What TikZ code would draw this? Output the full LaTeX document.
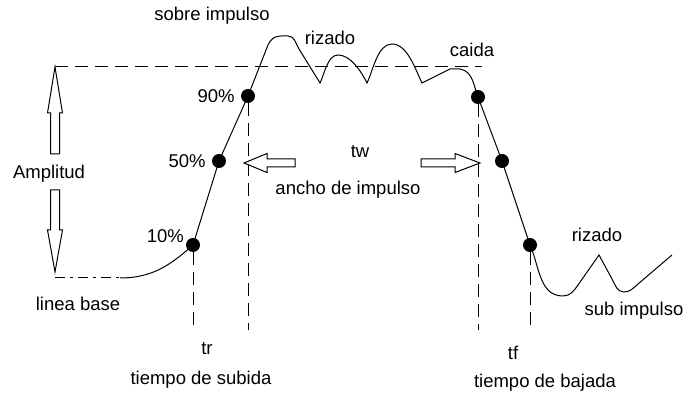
\documentclass[tikz,border=0pt]{standalone}
\usepackage{fontspec}
\setmainfont{Liberation Sans}

\begin{document}
\begin{tikzpicture}[x=1pt,y=1pt,
  txt/.style={font=\fontsize{18.5}{20}\selectfont,inner sep=0pt},
  every label/.style={txt},
  dot/.style={circle,fill,inner sep=0pt,minimum size=14pt},
  guide/.style={dash pattern=on 13pt off 7pt,line width=1pt},
  pulse/.style={line width=1pt},
  hollow/.style={line width=1pt,fill=white}]
\useasboundingbox (0,0) rectangle (689,393);

% reference points
\coordinate (amptop) at (55,326);
\coordinate (topend) at (482,326);
\coordinate (base0) at (55,115);
\coordinate (base1) at (120,115);
\coordinate (bot) at (0,63);
\coordinate (r10) at (193,148);
\coordinate (r50) at (219,232);
\coordinate (r90) at (248,297);
\coordinate (f90) at (478,296);
\coordinate (f50) at (502,232);
\coordinate (f10) at (530,148);

% pulse
\draw[guide] (amptop) -- (topend);
\draw[pulse,dash pattern=on 10pt off 5pt on 3pt off 5pt] (base0) -- (base1);
\draw[pulse] (base1) to[out=0,in=222] (r10) -- (r50) -- (r90) -- (268,348)
  to[out=68,in=180] (281,357) -- (288,357) to[out=0,in=122] (299,344)
  -- (320,310) to[out=64,in=180,looseness=0.8] (338,338)
  to[out=0,in=116,looseness=0.8] (367,310)
  to[out=64,in=180,looseness=0.8] (392,349)
  to[out=0,in=116,looseness=0.8] (422,310)
  -- (450,324) -- (460,324) to[out=-10,in=111] (f90) -- (f50)
  -- (f10) to[out=-66,in=180] (563,97) to[out=0,in=235] (578,108)
  -- (599,138) -- (612,114) to[out=-61,in=180] (624,101) to[out=0,in=221] (638,109)
  -- (672,138);

\node[dot,label={[label distance=6pt]left:90\%}] (d90) at (r90) {};
\node[dot,label={[label distance=6pt]left:50\%}] (d50) at (r50) {};
\node[dot,label={[label distance=2pt]165:10\%}] (d10) at (r10) {};
\node[dot] (e90) at (f90) {};
\node[dot] (e50) at (f50) {};
\node[dot] (e10) at (f10) {};

\draw[guide] (d90) -- (d90 |- bot);
\draw[guide] (d10) -- (d10 |- bot);
\draw[guide] (e90) -- (e90 |- bot);
\draw[guide] (e10) -- (e10 |- bot);

% hollow arrows
\draw[hollow] (amptop) -- ++(7.5,-46) -- ++(-3,0) -- ++(0,-41) -- ++(-9,0)
  -- ++(0,41) -- ++(-3,0) -- cycle;
\coordinate (ampbot) at (55,121);
\draw[hollow] (ampbot) -- ++(7.5,42) -- ++(-3,0) -- ++(0,40) -- ++(-9,0)
  -- ++(0,-40) -- ++(-3,0) -- cycle;
\coordinate (wleft) at (244,230);
\draw[hollow] (wleft) -- ++(23,9.5) -- ++(0,-5.5) -- ++(28,0) -- ++(0,-8)
  -- ++(-28,0) -- ++(0,-5.5) -- cycle;
\coordinate (wright) at (480,230);
\draw[hollow] (wright) -- ++(-25,9.5) -- ++(0,-5.5) -- ++(-34,0) -- ++(0,-8)
  -- ++(34,0) -- ++(0,-5.5) -- cycle;

% texts
\node[txt] (sobre) at (212,377) {sobre impulso};
\node[txt] (riz1) at (330,355) {rizado};
\node[txt] (caida) at (472,343) {caida};
\node[txt] (amp) at (49,219) {Amplitud};
\node[txt] (lbase) at (78,89) {linea base};
\node[txt] (tw) at (360,241) {tw};
\node[txt] (ancho) at (348,203) {ancho de impulso};
\node[txt] (tr) at (207,44) {tr};
\node[txt] (tsub) at (201,13) {tiempo de subida};
\node[txt] (tf) at (513,40) {tf};
\node[txt] (tbaj) at (545,10) {tiempo de bajada};
\node[txt] (riz2) at (597,158) {rizado};
\node[txt] (sub) at (634,82) {sub impulso};
\end{tikzpicture}
\end{document}
